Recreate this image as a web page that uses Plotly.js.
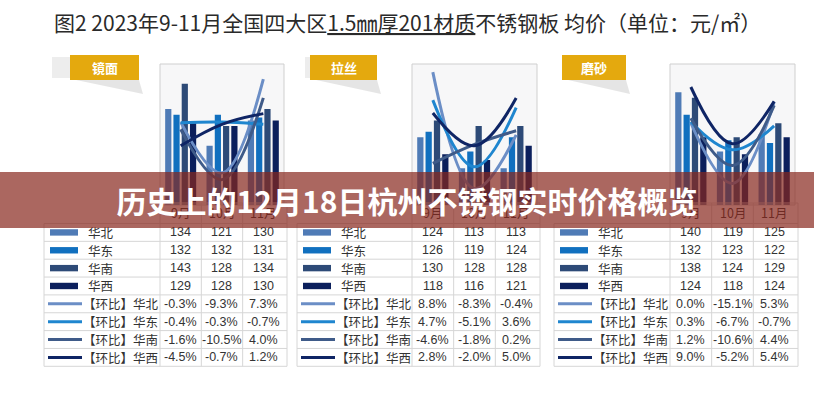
<!DOCTYPE html>
<html><head><meta charset="utf-8">
<script src="https://cdn.plot.ly/plotly-3.0.1.min.js"></script>
<style>html,body{margin:0;padding:0;background:#fff}#chart{width:814px;height:400px}</style>
</head><body><div id="chart"></div>
<script>
// ---------------- data ----------------
const titleText = '图2 2023年9-11月全国四大区<span style="text-decoration:underline">1.5㎜厚201材质</span>不锈钢板 均价（单位：元/㎡）';
const bannerText = '历史上的12月18日杭州不锈钢实时价格概览';
const finishes = ['镜面', '拉丝', '磨砂'];
const months = ['9月', '10月', '11月'];
const regions = ['华北', '华东', '华南', '华西'];
const momLabels = ['【环比】华北', '【环比】华东', '【环比】华南', '【环比】华西'];
// average price (元/㎡), per region: [9月, 10月, 11月]
const priceMirror  = [[134, 121, 130], [132, 132, 131], [143, 128, 134], [129, 128, 130]];
const priceBrushed = [[124, 113, 113], [126, 119, 124], [130, 128, 128], [118, 116, 121]];
const priceSanded  = [[140, 119, 125], [132, 123, 122], [138, 124, 129], [124, 118, 124]];
// month-on-month change (%)
const momMirror  = [[-0.3, -9.3, 7.3], [-0.4, -0.3, -0.7], [-1.6, -10.5, 4.0], [-4.5, -0.7, 1.2]];
const momBrushed = [[8.8, -8.3, -0.4], [4.7, -5.1, 3.6], [-4.6, -1.8, 0.2], [2.8, -2.0, 5.0]];
const momSanded  = [[0.0, -15.1, 5.3], [0.3, -6.7, -0.7], [1.2, -10.6, 4.4], [9.0, -5.2, 5.4]];

// ---------------- styling / layout ----------------
const prices = [priceMirror, priceBrushed, priceSanded];
const moms = [momMirror, momBrushed, momSanded];
const barColors = ['#4f7bb6', '#1170bf', '#2d4a77', '#0b1f5c'];
const lineColors = ['#6b8ec6', '#1f86cf', '#3f5b89', '#0f2565'];
const W = 814, H = 400;
const X = px => px / W, Y = py => 1 - py / H;
const panelX = [[160, 284], [412, 537], [670, 795]];
const tableLeft = [44, 297, 554];
const tabX = [[70, 139], [310, 377], [562, 626]];
const plotTop = 64, plotBot = 205;
const momRanges = [[-15, 10], [-10.7, 10], [-20.5, 14.75]];
const headTop = 203, rowTop = 223.5, rowH = 17.85;
const fontCJK = '"Noto Sans CJK SC", "Noto Sans", sans-serif';

const data = [];
const layout = {
  width: W, height: H, margin: {l: 0, r: 0, t: 0, b: 0},
  paper_bgcolor: '#ffffff', plot_bgcolor: '#f7f7f8',
  showlegend: false, barmode: 'group', bargap: 0.2, bargroupgap: 0.25,
  shapes: [], annotations: []
};
function note(px, py, text, font, xanchor) {
  layout.annotations.push({xref: 'paper', yref: 'paper', x: X(px), y: Y(py), text: text, showarrow: false,
    xanchor: xanchor || 'center', yanchor: 'middle', font: font});
}

for (let p = 0; p < 3; p++) {
  const xa = p === 0 ? 'x' : 'x' + (p + 1);
  const ya = p === 0 ? 'y' : 'y' + (p + 1);
  const ya2 = 'y' + (p + 4);
  const xk = p === 0 ? 'xaxis' : 'xaxis' + (p + 1);
  const yk = p === 0 ? 'yaxis' : 'yaxis' + (p + 1);
  const yk2 = 'yaxis' + (p + 4);
  layout[xk] = {domain: [X(panelX[p][0]), X(panelX[p][1])], anchor: ya, type: 'category',
    range: [-0.5, 2.5], showticklabels: false, showgrid: false, zeroline: false, ticks: ''};
  layout[yk] = {domain: [Y(plotBot), Y(plotTop)], anchor: xa, range: [100, 150],
    showticklabels: false, showgrid: false, zeroline: false, ticks: ''};
  layout[yk2] = {overlaying: ya, anchor: xa, side: 'right', range: momRanges[p],
    showticklabels: false, showgrid: false, zeroline: false, ticks: ''};
  for (let r = 0; r < 4; r++) {
    data.push({type: 'bar', x: months, y: prices[p][r], xaxis: xa, yaxis: ya,
      marker: {color: barColors[r]}, name: regions[r], hoverinfo: 'skip'});
  }
  for (let r = 0; r < 4; r++) {
    data.push({type: 'scatter', mode: 'lines', x: months, y: moms[p][r], xaxis: xa, yaxis: ya2,
      line: {color: lineColors[r], width: 3, shape: 'spline', smoothing: 1.1}, name: momLabels[r], hoverinfo: 'skip'});
  }
  // plot frame
  layout.shapes.push({type: 'rect', xref: 'paper', yref: 'paper', x0: X(panelX[p][0]), x1: X(panelX[p][1]),
    y0: Y(plotBot), y1: Y(plotTop), line: {color: '#cfcfcf', width: 1}, fillcolor: 'rgba(0,0,0,0)', layer: 'above'});
  // tab
  layout.shapes.push({type: 'rect', xref: 'paper', yref: 'paper', x0: X(tableLeft[p] + 8), x1: X(tabX[p][0]),
    y0: Y(78), y1: Y(57), line: {width: 0}, fillcolor: '#ededed', layer: 'below'});
  layout.shapes.push({type: 'path', xref: 'paper', yref: 'paper',
    path: `M ${X(tabX[p][0] + 6)} ${Y(80)} L ${X(tabX[p][1])} ${Y(80)} L ${X(tabX[p][1] + 4)} ${Y(94)} Z`,
    line: {width: 0}, fillcolor: 'rgba(0,0,0,0.10)', layer: 'below'});
  layout.shapes.push({type: 'rect', xref: 'paper', yref: 'paper', x0: X(tabX[p][0]), x1: X(tabX[p][1]),
    y0: Y(80), y1: Y(55), line: {width: 0}, fillcolor: '#e4a90e', layer: 'below'});
  note((tabX[p][0] + tabX[p][1]) / 2, 67.5, '<b>' + finishes[p] + '</b>', {family: fontCJK, size: 13, color: '#ffffff'});

  // table
  const L = tableLeft[p], x0 = panelX[p][0], x1 = panelX[p][1];
  const colW = (x1 - x0) / 3;
  const tableBot = rowTop + 8 * rowH;
  for (let k = 0; k <= 8; k++) {
    const yy = rowTop + k * rowH;
    layout.shapes.push({type: 'line', xref: 'paper', yref: 'paper', x0: X(L), x1: X(x1 + 3), y0: Y(yy), y1: Y(yy),
      line: {color: '#d6d6d6', width: 1}});
  }
  layout.shapes.push({type: 'line', xref: 'paper', yref: 'paper', x0: X(x0), x1: X(x1 + 3), y0: Y(headTop), y1: Y(headTop),
    line: {color: '#d6d6d6', width: 1}});
  [L, x0, x0 + colW, x0 + 2 * colW, x1 + 3].forEach((vx, i) => {
    layout.shapes.push({type: 'line', xref: 'paper', yref: 'paper', x0: X(vx), x1: X(vx),
      y0: Y(i === 0 ? rowTop : headTop), y1: Y(tableBot), line: {color: '#d6d6d6', width: 1}});
  });
  months.forEach((m, j) => {
    note(x0 + colW * (j + 0.5), 212, m, {family: fontCJK, size: 12.5, color: '#333'});
  });
  for (let r = 0; r < 8; r++) {
    const cy = rowTop + (r + 0.5) * rowH;
    const reg = r % 4;
    if (r < 4) {
      layout.shapes.push({type: 'rect', xref: 'paper', yref: 'paper', x0: X(L + 6), x1: X(L + 34),
        y0: Y(cy + 3.2), y1: Y(cy - 3.2), line: {width: 0}, fillcolor: barColors[reg]});
      note(L + 42, cy, regions[reg], {family: fontCJK, size: 12.5, color: '#333'}, 'left');
    } else {
      layout.shapes.push({type: 'line', xref: 'paper', yref: 'paper', x0: X(L + 4), x1: X(L + 38),
        y0: Y(cy), y1: Y(cy), line: {color: lineColors[reg], width: 3}});
      note(L + 37, cy, momLabels[reg], {family: fontCJK, size: 12.5, color: '#333'}, 'left');
    }
    for (let j = 0; j < 3; j++) {
      const v = r < 4 ? String(prices[p][reg][j]) : moms[p][reg][j].toFixed(1) + '%';
      note(x0 + colW * (j + 0.5), cy, v, {family: '"Liberation Sans", Arial, sans-serif', size: 12.5, color: '#333'});
    }
  }
}

// title
note(407, 22, titleText, {family: fontCJK, size: 21, color: '#2a2a2a'});
// banner overlay (drawn last so it tints everything below)
layout.annotations.push({xref: 'paper', yref: 'paper', x: 0, y: Y(172), xanchor: 'left', yanchor: 'top',
  width: W, height: 56, borderpad: 0, borderwidth: 0, bgcolor: 'rgba(135,38,28,0.70)',
  text: '<b>' + bannerText + '</b>', showarrow: false, align: 'center',
  font: {family: fontCJK, size: 30, color: '#ffffff'}});

Plotly.newPlot('chart', data, layout, {staticPlot: true});
</script></body></html>
